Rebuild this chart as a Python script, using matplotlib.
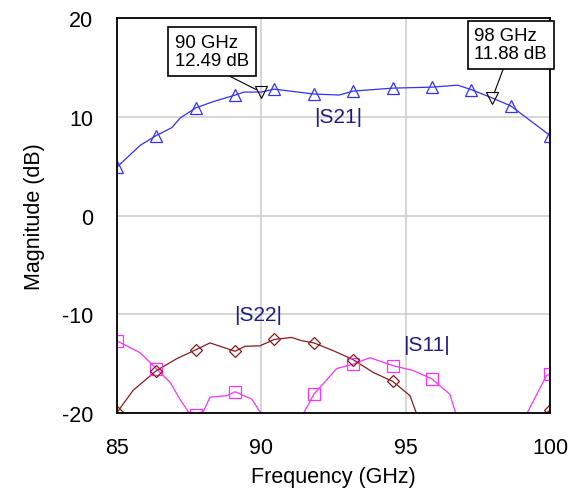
import matplotlib
matplotlib.use("Agg")
import matplotlib.pyplot as plt

plt.rcParams['font.family'] = ['Liberation Sans', 'DejaVu Sans']
plt.rcParams['axes.unicode_minus'] = False

# |S21| trace (GHz, dB)
s21_f = [85.0, 85.4, 85.8, 86.36, 86.9, 87.2, 87.73, 88.3, 89.09, 89.4, 90.0,
         90.45, 91.82, 92.7, 93.18, 94.55, 95.91, 96.8, 97.27, 98.0, 98.64, 100.0]
s21_db = [4.9, 6.0, 7.1, 8.1, 8.9, 9.9, 10.9, 11.5, 12.2, 12.5, 12.5,
          12.8, 12.3, 12.2, 12.6, 12.9, 13.0, 13.2, 12.75, 11.9, 11.1, 8.1]

# |S11| trace
s11_f = [85.0, 85.8, 86.36, 86.84, 87.18, 87.47, 87.73, 88.0, 88.22, 88.8, 89.09,
         89.67, 90.0, 90.45, 91.0, 91.45, 91.82, 92.61, 93.18, 93.76, 94.55, 95.26,
         95.91, 96.53, 96.74, 97.27, 98.0, 98.64, 99.19, 99.88, 100.0]
s11_db = [-12.7, -13.9, -15.5, -16.9, -18.6, -19.9, -20.2, -19.8, -18.4, -18.25, -17.85,
          -18.6, -20.1, -22.0, -22.0, -20.1, -18.1, -15.5, -15.05, -14.4, -15.2, -15.7,
          -16.55, -18.1, -20.1, -23.0, -24.0, -22.5, -20.1, -16.2, -16.1]

# |S22| trace
s22_f = [85.0, 85.56, 86.37, 87.07, 87.73, 88.22, 89.09, 89.43, 89.95, 90.45, 91.05,
         91.4, 91.82, 92.5, 93.18, 93.88, 94.55, 95.15, 95.38, 96.0, 97.27, 98.64,
         99.5, 100.0]
s22_db = [-19.95, -17.7, -15.7, -14.5, -13.6, -12.9, -13.75, -13.25, -13.2, -12.55, -12.35,
          -12.68, -12.9, -13.7, -14.6, -15.9, -16.8, -18.25, -20.1, -23.0, -25.0, -23.0,
          -21.0, -19.7]

# symbols (every 15/11 GHz)
sym_f = [85.0, 86.36, 87.73, 89.09, 90.45, 91.82, 93.18, 94.55, 95.91, 97.27, 98.64, 100.0]
sym_s21 = [4.9, 8.1, 10.9, 12.2, 12.8, 12.3, 12.6, 12.9, 13.0, 12.75, 11.1, 8.1]
sym_s11 = [-12.7, -15.5, -20.2, -17.85, -22.0, -18.1, -15.05, -15.2, -16.55, -23.0, -22.5, -16.1]
sym_s22 = [-19.95, -15.7, -13.6, -13.75, -12.55, -12.9, -14.6, -16.8, -22.0, -25.0, -23.0, -19.7]

# markers
mk_f = [90, 98]
mk_db = [12.49, 11.88]

c21 = '#3030ff'
c11 = '#ff30ff'
c22 = '#8b1a1a'
label_c = '#1c1c8c'

fig = plt.figure(figsize=(5.78, 4.89), dpi=100)
ax = fig.add_axes([0.2024, 0.1534, 0.7492, 0.8077])

ax.plot(s21_f, s21_db, color=c21, lw=0.9)
ax.plot(s11_f, s11_db, color=c11, lw=0.9)
ax.plot(s22_f, s22_db, color=c22, lw=0.9)
ax.plot(sym_f, sym_s21, ls='none', marker='^', ms=9, mfc='none', mec=c21, mew=0.9)
ax.plot(sym_f, sym_s11, ls='none', marker='s', ms=9, mfc='none', mec=c11, mew=0.9)
ax.plot(sym_f, sym_s22, ls='none', marker='D', ms=6.5, mfc='none', mec=c22, mew=0.9)
ax.plot(mk_f, mk_db, ls='none', marker='v', ms=8, mfc='none', mec='black', mew=0.8, zorder=5)

box = dict(boxstyle='square,pad=0.35', fc='white', ec='black', lw=1.2)
for f, v, pos, rx in zip(mk_f, mk_db, [(88.29, 16.61), (98.64, 17.29)], [0.55, 0.43]):
    ax.annotate(f"{f} GHz\n{v:.2f} dB", xy=(f, v), xytext=pos, ha='center', va='center',
                multialignment='left', fontsize=13.4, linespacing=1.1, bbox=box,
                annotation_clip=False,
                arrowprops=dict(arrowstyle='-', color='black', lw=0.8,
                                relpos=(rx, 0), shrinkA=0, shrinkB=4))

ax.text(92.65, 10.0, '|S21|', color=label_c, fontsize=15, ha='center', va='center')
ax.text(89.9, -10.0, '|S22|', color=label_c, fontsize=15, ha='center', va='center')
ax.text(95.73, -13.1, '|S11|', color=label_c, fontsize=15, ha='center', va='center')

ax.set_xlim(85, 100)
ax.set_ylim(-20, 20)
ax.set_xticks([85, 90, 95, 100])
ax.set_yticks([-20, -10, 0, 10, 20])
ax.grid(True, color='#cccccc', lw=1.1)
ax.set_axisbelow(True)
ax.tick_params(length=0, labelsize=15.5, pad=17)
for s in ax.spines.values():
    s.set_linewidth(1.3)
ax.set_xlabel('Frequency (GHz)', fontsize=15.5, labelpad=6)
ax.set_ylabel('Magnitude (dB)', fontsize=15.5, labelpad=12)

fig.savefig('out.png', dpi=100)
